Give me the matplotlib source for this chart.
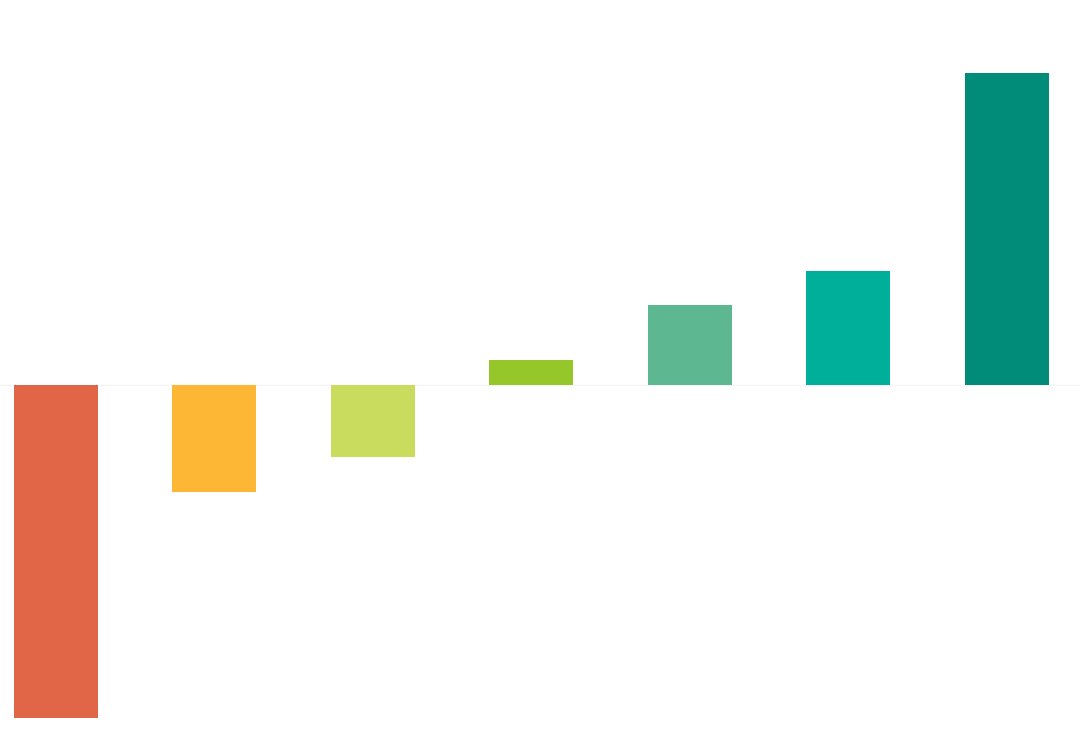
import matplotlib
matplotlib.use("Agg")
import matplotlib.pyplot as plt
import numpy as np

# bar values (baseline = 0)
categories = ["A", "B", "C", "D", "E", "F", "G"]
values = [-333, -107, -72, 25, 80, 114, 312]
colors = ["#e06647", "#fdb734", "#c9dc5d", "#95c72b", "#5db892", "#00af9a", "#008c79"]

fig = plt.figure(figsize=(10.8, 7.41), dpi=100)
ax = fig.add_axes([0, 0, 1, 1])

x = np.arange(len(categories))
ax.axhline(0, color="#f5f5f5", linewidth=1, zorder=1)
ax.bar(x, values, width=0.53, color=colors, zorder=2)

ax.set_xlim(-0.353, 6.461)
ax.set_ylim(-356, 385)
ax.axis("off")

fig.savefig("out.png", dpi=100, facecolor="white")
